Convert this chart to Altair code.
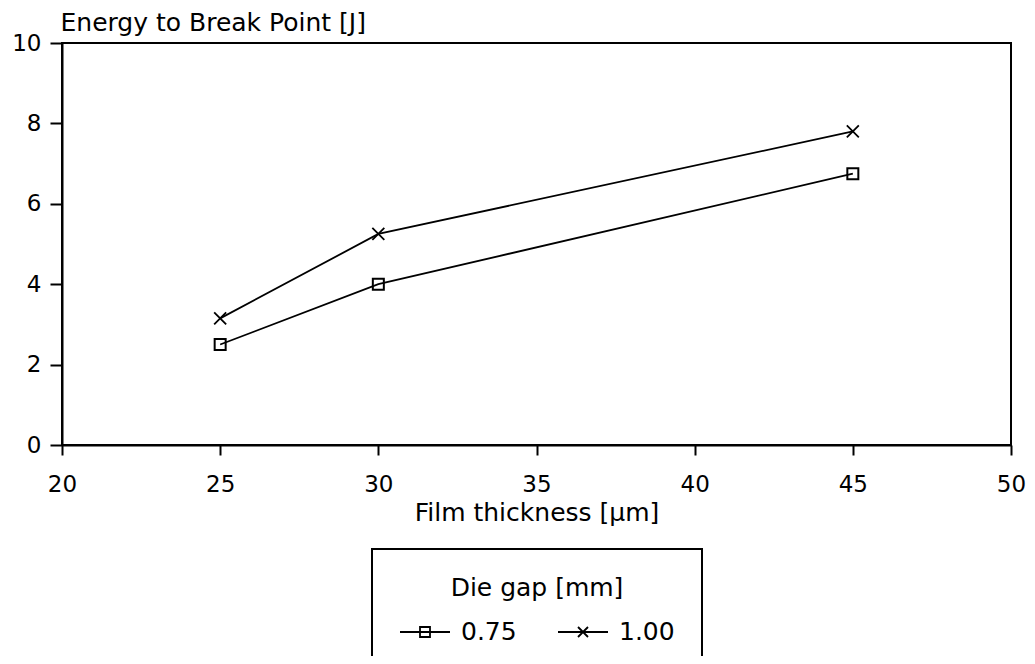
import altair as alt
import pandas as pd

# ---- data ----
thickness = [25, 30, 45]
gap_labels = ["0.75", "1.00"]
energy_075 = [2.5, 4.0, 6.75]
energy_100 = [3.15, 5.25, 7.8]

x_ticks = [20, 25, 30, 35, 40, 45, 50]
y_ticks = [0, 2, 4, 6, 8, 10]

df = pd.DataFrame({
    "thickness": thickness * 2,
    "energy": energy_075 + energy_100,
    "gap": [gap_labels[0]] * len(thickness) + [gap_labels[1]] * len(thickness),
})

FONT = "DejaVu Sans"
cross_path = "M-1,-1L1,1M-1,1L1,-1"
legend_paths = [
    "M-1,0H1M-0.2,-0.2H0.2V0.2H-0.2Z",
    "M-1,0H1M-0.2,-0.2L0.2,0.2M-0.2,0.2L0.2,-0.2",
]

x = alt.X(
    "thickness:Q",
    scale=alt.Scale(domain=[20, 50], nice=False, zero=False),
    axis=alt.Axis(
        values=x_ticks,
        title="Film thickness [µm]",
        titleY=75,
        titleBaseline="alphabetic",
        labelFlush=False,
        tickSize=10,
        labelPadding=18,
        labelFontSize=23,
        titleFontSize=25,
    ),
)
y = alt.Y(
    "energy:Q",
    scale=alt.Scale(domain=[0, 10], nice=False),
    axis=alt.Axis(
        values=y_ticks,
        title="Energy to Break Point [J]",
        titleAngle=0,
        titleAlign="left",
        titleBaseline="middle",
        titleX=-2,
        titleY=-21,
        tickSize=12,
        labelPadding=9,
        labelFontSize=23,
        titleFontSize=25,
    ),
)

base = alt.Chart(df)

lines = base.mark_line(color="black", strokeWidth=1.8).encode(
    x=x, y=y, detail="gap:N"
)
squares = base.transform_filter(alt.datum.gap == gap_labels[0]).mark_point(
    shape="square", size=121, color="black", filled=False, strokeWidth=2, opacity=1
).encode(x=x, y=y)
crosses = base.transform_filter(alt.datum.gap == gap_labels[1]).mark_point(
    shape=cross_path, size=144, color="black", filled=False, strokeWidth=1.8, opacity=1
).encode(x=x, y=y)

legend_layer = base.transform_filter("false").mark_point(
    color="black", filled=False, strokeWidth=1.8
).encode(
    x=x,
    y=y,
    shape=alt.Shape(
        "gap:N",
        scale=alt.Scale(domain=gap_labels, range=legend_paths),
        legend=alt.Legend(
            title="Die gap [mm]",
            orient="none",
            legendX=310,
            legendY=506,
            direction="horizontal",
            titleAnchor="middle",
            symbolSize=2500,
            symbolStrokeWidth=1.8,
            symbolStrokeColor="black",
            symbolFillColor="transparent",
            symbolOpacity=1,
            labelFontSize=25,
            titleFontSize=25,
            labelOffset=10,
            columnPadding=37,
            titlePadding=5,
            padding=27,
            strokeColor="black",
        ),
    ),
)

chart = (
    alt.layer(lines, squares, crosses, legend_layer)
    .properties(
        width=949,
        height=402,
        autosize="none",
        padding={"left": 54, "top": 35, "right": 16, "bottom": 211},
        background="white",
    )
    .configure_view(stroke="black", strokeWidth=2)
    .configure_axis(
        grid=False,
        domainColor="black",
        domainWidth=2,
        tickColor="black",
        tickWidth=2,
        labelColor="black",
        titleColor="black",
        labelFont=FONT,
        titleFont=FONT,
        titleFontWeight="normal",
    )
    .configure_legend(
        labelFont=FONT,
        titleFont=FONT,
        titleFontWeight="normal",
        labelColor="black",
        titleColor="black",
        strokeWidth=2,
    )
)

chart.save("out.html", embed_options={"renderer": "svg", "actions": False})
